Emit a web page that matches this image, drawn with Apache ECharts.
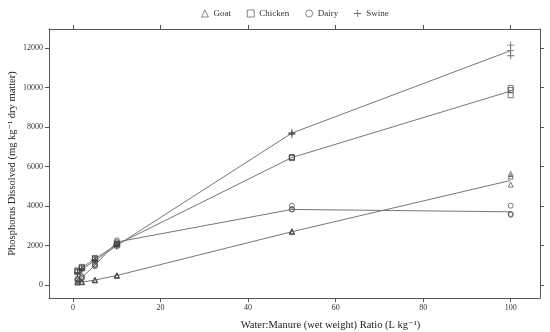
<!DOCTYPE html>
<html><head><meta charset="utf-8">
<script src="https://cdn.jsdelivr.net/npm/echarts@6/dist/echarts.min.js"></script>
<style>html,body{margin:0;padding:0;background:#fff}#c{width:550px;height:332px}</style>
</head><body><div id="c"></div>
<script>
const ratios = [1, 2, 5, 10, 50, 100];
const xTicks = [0, 20, 40, 60, 80, 100];
const yTicks = [0, 2000, 4000, 6000, 8000, 10000, 12000];

const goatRep1 = [120, 150, 230, 460, 2680, 5630];
const goatRep2 = [150, 170, 250, 480, 2700, 5500];
const goatRep3 = [180, 140, 270, 500, 2730, 5090];
const goatMean = [150, 150, 250, 480, 2700, 5300];

const chickenRep1 = [650, 840, 1280, 2000, 6430, 9990];
const chickenRep2 = [700, 880, 1330, 2050, 6460, 9880];
const chickenRep3 = [740, 920, 1370, 2100, 6490, 9620];
const chickenMean = [700, 880, 1330, 2050, 6460, 9830];

const dairyRep1 = [220, 330, 950, 2100, 3820, 4020];
const dairyRep2 = [270, 380, 1000, 2180, 3850, 3600];
const dairyRep3 = [320, 420, 1050, 2260, 4020, 3560];
const dairyMean = [270, 380, 1000, 2180, 3830, 3710];

const swineRep1 = [560, 740, 1180, 1950, 7620, 12160];
const swineRep2 = [600, 790, 1240, 2000, 7680, 11880];
const swineRep3 = [640, 830, 1290, 2050, 7740, 11620];
const swineMean = [600, 790, 1240, 2000, 7700, 11880];

const FONT = '"Liberation Serif", "DejaVu Serif", serif';
const MARK = '#444';
const LINE = '#777';
const AXIS = '#555';
const plusPath = 'path://M4.4,0H5.6V4.4H10V5.6H5.6V10H4.4V5.6H0V4.4H4.4Z';

function pts(...reps) { const out = []; reps.forEach(r => r.forEach((v, i) => out.push([ratios[i], v]))); return out; }
function line(vals) { return vals.map((v, i) => [ratios[i], v]); }

const groups = [
  { name: 'Goat', symbol: 'triangle', reps: [goatRep1, goatRep2, goatRep3], mean: goatMean, hollow: true },
  { name: 'Chicken', symbol: 'rect', reps: [chickenRep1, chickenRep2, chickenRep3], mean: chickenMean, hollow: true },
  { name: 'Dairy', symbol: 'circle', reps: [dairyRep1, dairyRep2, dairyRep3], mean: dairyMean, hollow: true },
  { name: 'Swine', symbol: plusPath, reps: [swineRep1, swineRep2, swineRep3], mean: swineMean, hollow: false }
];

const series = [];
groups.forEach(g => {
  series.push({ name: g.name + ' mean', type: 'line', data: line(g.mean), showSymbol: false, symbol: 'none',
    lineStyle: { color: LINE, width: 1 }, silent: true, z: 2 });
});
groups.forEach(g => {
  series.push({ name: g.name, type: 'scatter', data: pts(...g.reps), symbol: g.symbol,
    symbolSize: g.hollow ? 5 : 7,
    itemStyle: g.hollow ? { color: 'rgba(255,255,255,0)', borderColor: MARK, borderWidth: 0.9 } : { color: MARK, borderWidth: 0 },
    z: 3 });
});

const commonX = { type: 'value', min: -5.5, max: 106.7, splitLine: { show: false },
  axisLine: { show: true, onZero: false, lineStyle: { color: AXIS, width: 1 } },
  axisTick: { show: true, inside: false, length: 4, customValues: xTicks, lineStyle: { color: AXIS } } };
const commonY = { type: 'value', min: -660, max: 12977, splitLine: { show: false },
  axisLine: { show: true, onZero: false, lineStyle: { color: AXIS, width: 1 } },
  axisTick: { show: true, inside: false, length: 4, customValues: yTicks, lineStyle: { color: AXIS } } };

const chart = echarts.init(document.getElementById('c'), null, { renderer: 'canvas' });
chart.setOption({
  animation: false,
  backgroundColor: '#fff',
  textStyle: { fontFamily: FONT },
  legend: {
    data: groups.map(g => ({ name: g.name, icon: g.symbol,
      itemStyle: g.hollow ? { color: 'rgba(255,255,255,0)', borderColor: MARK, borderWidth: 0.8 } : { color: MARK, borderWidth: 0 } })),
    top: 4, left: 196, itemWidth: 7, itemHeight: 7, itemGap: 16,
    textStyle: { fontFamily: FONT, fontSize: 9, color: '#333' }
  },
  grid: { left: 49, right: 10, top: 29, bottom: 34, containLabel: false, outerBoundsMode: 'none' },
  xAxis: [
    Object.assign({}, commonX, { position: 'bottom',
      axisLabel: { show: true, customValues: xTicks, fontFamily: FONT, fontSize: 8, color: '#333', margin: 6,
        formatter: v => String(v) },
      name: 'Water:Manure (wet weight) Ratio (L kg\u207B\u00B9)', nameLocation: 'middle', nameGap: 22,
      nameMoveOverlap: false,
      nameTextStyle: { fontFamily: FONT, fontSize: 10.5, color: '#222', padding: [0, 0, 0, 72] } }),
    Object.assign({}, commonX, { position: 'top', axisLabel: { show: false } })
  ],
  yAxis: [
    Object.assign({}, commonY, { position: 'left',
      axisLabel: { show: true, customValues: yTicks, fontFamily: FONT, fontSize: 8, color: '#333', margin: 6,
        formatter: v => String(v) },
      name: 'Phosphorus Dissolved (mg kg\u207B\u00B9 dry matter)', nameLocation: 'middle', nameGap: 31,
      nameMoveOverlap: false,
      nameTextStyle: { fontFamily: FONT, fontSize: 10.5, color: '#222' } }),
    Object.assign({}, commonY, { position: 'right', axisLabel: { show: false } })
  ],
  series: series
});
</script></body></html>
